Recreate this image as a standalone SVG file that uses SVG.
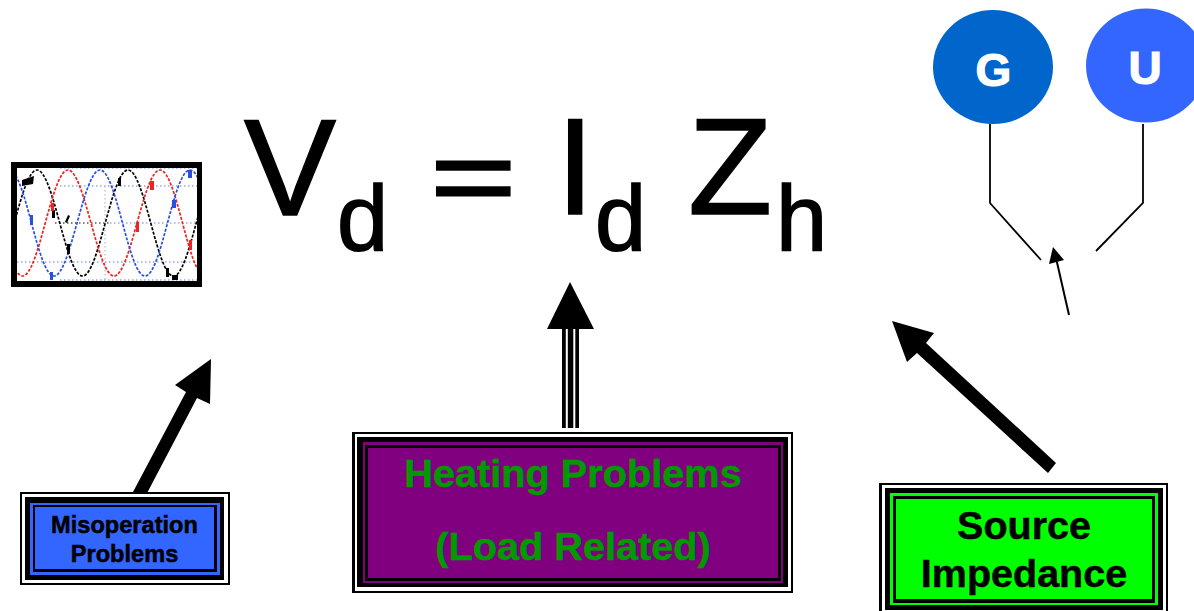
<svg xmlns="http://www.w3.org/2000/svg" width="1194" height="611" viewBox="0 0 1194 611">
<style>
text{font-family:"Liberation Sans",Arial,sans-serif}
.f{fill:#000;stroke:#000;stroke-width:1.5;font-size:138px}
.s{fill:#000;stroke:#000;stroke-width:1.5;font-size:92px}
.b{font-weight:700;text-anchor:middle;stroke-width:.5}
.k{fill:#000}
.w{fill:#fff}
.wave{fill:none;stroke-width:1.7;stroke-dasharray:3 1.5}
.grid{fill:none;stroke-width:1.2;stroke-dasharray:1.5 2.5}
.wire{fill:none;stroke:#000;stroke-width:1.8}
</style>
<defs>
<clipPath id="sc"><rect x="17" y="168" width="180" height="113"/></clipPath>
<filter id="soft" x="-5%" y="-5%" width="110%" height="110%"><feGaussianBlur stdDeviation="0.5"/></filter>
</defs>
<rect width="1194" height="611" fill="#fff"/>

<g id="waveform">
<rect x="11" y="162" width="191" height="125" class="k"/>
<rect x="17" y="168" width="180" height="113" class="w"/>
<g clip-path="url(#sc)" filter="url(#soft)">
<path class="grid" stroke="#5a82d8" d="M60 168H197M60 186H197M17 262H197M60 280H197"/>
<path class="grid" stroke="#000" d="M55 223H110"/>
<path class="grid" stroke="#5a82d8" d="M110 223H197"/>
<path class="grid" stroke="#bbb" d="M105 186V280"/>
<path class="wave" stroke="#000" d="M-8.5 276C8 276 20.5 170 37 170S66 276 82.500 276S111.500 170 128 170S157 276 173.500 276S202.500 170 219 170"/>
<path class="wave" stroke="#f02020" d="M-23 170C-6.500 170 6 276 22.500 276S51.500 170 68 170S97.500 276 114 276S143.500 170 160 170S188.500 276 205 276"/>
<path class="wave" stroke="#2a50e0" d="M9 170C25.500 170 37.500 276 54 276S83.500 170 100 170S128.500 276 145 276S173.500 170 190 170S219 276 235 276"/>
<path d="M22 180l12-4 -1 8-11 2zM65 222l3-7 2 1-3 7zM118 178h3v8h-3zM52 210h3v8h-3z" fill="#000"/>
<path d="M150 181h4v9h-4zM51 203h3v8h-3zM136 222h3v10h-3zM189 240h3v10h-3z" fill="#f02020"/>
<path d="M172 200h4v8h-4zM30 215h3v10h-3zM50 272h3v8h-3zM188 170h4v8h-4z" fill="#2a50e0"/>
<path d="M67 244h3v10h-3zM166 268h3v9h-3zM172 275h6v5h-6z" fill="#000"/>
</g>
</g>

<g id="equation">
<text class="f" x="244" y="214.500">V</text>
<text class="s" x="337" y="250">d</text>
<text class="f" style="stroke-width:4" transform="translate(431 211.500) scale(1.05 .74)">=</text>
<text class="f" x="556" y="214">I</text>
<text class="s" x="595" y="250">d</text>
<text class="f" x="688" y="214">Z</text>
<text class="s" x="776" y="250">h</text>
</g>

<g id="connectors">
<polygon class="k" points="211,359 210,404 197,398 145,497 133,492 186,392 175,385"/>
<g id="center-arrow">
<polygon class="k" points="570,282 594,329 547,329"/>
<rect x="562" y="329" width="17" height="99" class="k"/>
<rect x="565.800" y="329" width="2" height="99" class="w"/>
<rect x="573.300" y="329" width="2" height="99" class="w"/>
</g>
<polygon class="k" points="892,321 934,333 926,343 1056,463 1048,473 917,353 907,362"/>
<path class="wire" d="M990 124V203L1041 260"/>
<path class="wire" d="M1143 124V203L1096 251"/>
<path class="wire" style="stroke-width:2" d="M1069 315L1056 258"/>
<polygon class="k" points="1053,247 1064,260 1049,264"/>
</g>

<g id="node-g">
<ellipse cx="993" cy="67" rx="60" ry="57" fill="#0066cc"/>
<text class="b" x="993.500" y="86" font-size="46" fill="#fff" stroke="#fff" style="stroke-width:1.2">G</text>
</g>
<g id="node-u">
<ellipse cx="1146" cy="65.500" rx="60" ry="57" fill="#3366ff"/>
<text class="b" x="1145" y="84" font-size="46" fill="#fff" stroke="#fff" style="stroke-width:1.2">U</text>
</g>

<g id="misoperation">
<rect x="20" y="492" width="210" height="93" class="k"/>
<rect x="22" y="494" width="206" height="89" class="w"/>
<rect x="25" y="497" width="199" height="83" class="k"/>
<rect x="30" y="503" width="190" height="72" fill="#3366ff"/>
<rect x="33" y="505" width="184" height="67" class="k"/>
<rect x="35" y="507" width="179" height="62" fill="#3366ff"/>
<text class="b" x="124.500" y="533" font-size="23.600" fill="#000" stroke="#000">Misoperation</text>
<text class="b" x="124.500" y="562" font-size="23.600" fill="#000" stroke="#000">Problems</text>
</g>

<g id="heating">
<rect x="352" y="432" width="441" height="161" class="k"/>
<rect x="355" y="434" width="436" height="157" class="w"/>
<rect x="357" y="437" width="431" height="150" class="k"/>
<rect x="363" y="442" width="420" height="141" fill="#800080"/>
<rect x="365" y="445" width="416" height="136" class="k"/>
<rect x="368" y="448" width="410" height="130" fill="#800080"/>
<text class="b" x="573" y="487" font-size="39.700" fill="#009900" stroke="#009900">Heating Problems</text>
<text class="b" x="573" y="560" font-size="39.700" fill="#009900" stroke="#009900">(Load Related)</text>
</g>

<g id="source">
<rect x="879" y="483" width="289" height="130" class="k"/>
<rect x="882" y="485" width="284" height="130" class="w"/>
<rect x="885" y="488" width="278" height="122" class="k"/>
<rect x="890" y="493" width="268" height="112" fill="#00ff00"/>
<rect x="893" y="496" width="262" height="107" class="k"/>
<rect x="896" y="499" width="256" height="100" fill="#00ff00"/>
<text class="b" x="1024" y="538.500" font-size="39.500" fill="#000" stroke="#000">Source</text>
<text class="b" x="1024" y="587" font-size="39.500" fill="#000" stroke="#000">Impedance</text>
</g>
</svg>
